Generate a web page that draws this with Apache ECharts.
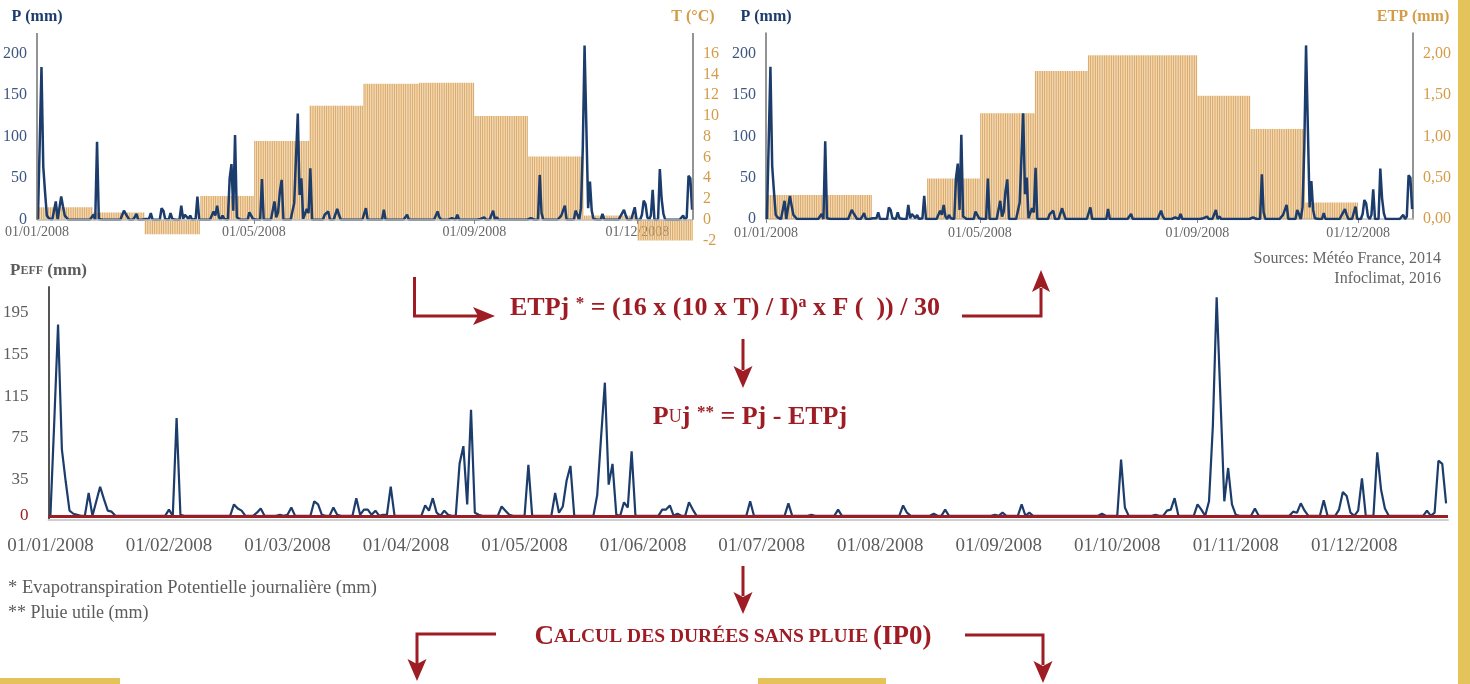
<!DOCTYPE html>
<html>
<head>
<meta charset="utf-8">
<script src="https://cdn.jsdelivr.net/npm/echarts@6/dist/echarts.min.js"></script>
<style>
html, body { margin: 0; padding: 0; background: #fff; }
#chart { width: 1470px; height: 684px; }
</style>
</head>
<body>
<div id="chart"></div>
<script>
// 2008 is a leap year
const monthDays = [31, 29, 31, 30, 31, 30, 31, 31, 30, 31, 30, 31]

// monthly mean temperature (°C)
const tempMonth = [1.2, 0.7, -1.4, 2.3, 7.6, 11.0, 13.1, 13.2, 10.0, 6.1, 0.4, -2.0]

// daily ETP for each month (mm)
const etpMonth = [0.29, 0.29, 0, 0.49, 1.28, 1.79, 1.98, 1.98, 1.49, 1.09, 0.20, 0]

// daily rain (mm), index 0 = 01/01/2008 ; top and bottom curves coincide at this scale
const pluieJour = [
  0, 90, 184, 64, 33, 5, 2, 1, 0, 0,
  22, 0, 14, 28, 16, 5, 4, 0, 0, 0,
  0, 0, 0, 0, 0, 0, 0, 0, 0, 0,
  0, 6, 0, 94, 1, 0, 0, 0, 0, 0,
  0, 0, 0, 0, 0, 0, 0, 0, 11, 7,
  5, 0, 0, 0, 3, 7, 0, 0, 0, 0,
  1, 0, 1, 8, 0, 0, 0, 0, 0, 14,
  11, 1, 0, 0, 8, 1, 0, 0, 0, 0,
  17, 1, 6, 6, 1, 5, 0, 1, 1, 28,
  0, 0, 0, 0, 0, 0, 0, 0, 10, 5,
  17, 3, 0, 5, 1, 0, 0, 50, 67, 11,
  102, 3, 1, 0, 0, 0, 0, 0, 9, 5,
  1, 0, 0, 0, 0, 49, 0, 0, 0, 0,
  0, 0, 22, 3, 9, 34, 48, 0, 0, 0,
  0, 0, 0, 20, 75, 128, 30, 50, 1, 0,
  13, 8, 62, 0, 0, 0, 0, 0, 0, 0,
  6, 6, 10, 0, 2, 0, 0, 13, 6, 0,
  0, 0, 0, 0, 0, 0, 0, 0, 0, 0,
  0, 0, 0, 14, 0, 0, 0, 0, 0, 0,
  0, 0, 0, 12, 0, 0, 0, 0, 0, 1,
  0, 0, 0, 0, 0, 0, 6, 0, 0, 0,
  0, 0, 0, 0, 0, 0, 0, 0, 0, 0,
  0, 0, 0, 10, 3, 0, 0, 0, 0, 0,
  0, 2, 0, 0, 6, 0, 0, 0, 0, 0,
  0, 0, 0, 0, 0, 0, 0, 1, 0, 3,
  0, 0, 0, 0, 11, 0, 3, 0, 0, 0,
  0, 0, 0, 0, 0, 0, 0, 0, 0, 0,
  0, 0, 0, 0, 0, 2, 0, 0, 0, 0,
  54, 8, 0, 0, 0, 0, 0, 0, 0, 1,
  0, 0, 5, 6, 17, 0, 0, 0, 0, 0,
  11, 6, 0, 14, 86, 210, 112, 14, 46, 11,
  1, 0, 0, 0, 0, 7, 0, 0, 0, 0,
  0, 0, 0, 0, 0, 4, 3, 12, 5, 0,
  0, 0, 0, 15, 0, 0, 0, 6, 23, 19,
  3, 0, 5, 36, 0, 0, 0, 61, 25, 7,
  0, 0, 0, 0, 0, 0, 0, 0, 0, 0,
  5, 0, 3, 53, 50, 12
]

const topTicks = [0, 121, 244, 335]
const topTickLabels = ['01/01/2008', '01/05/2008', '01/09/2008', '01/12/2008']
const bottomTickLabels = ['01/01/2008', '01/02/2008', '01/03/2008', '01/04/2008', '01/05/2008', '01/06/2008',
  '01/07/2008', '01/08/2008', '01/09/2008', '01/10/2008', '01/11/2008', '01/12/2008']
const peffTicks = [0, 35, 75, 115, 155, 195]

const serif = '"Liberation Serif", "DejaVu Serif", serif'
const navy = '#1c3c6c'
const gold = '#d49c46'
const red = '#9e1c24'
const grey = '#5c5c5c'
const barColor = 'rgba(220, 166, 92, 0.92)'

// one bar per day, height = value of its month
function daily (monthValues) {
  const out = []
  let d = 0
  monthDays.forEach((n, m) => {
    for (let i = 0; i < n; i++) { out.push([d + 0.5, monthValues[m]]); d++ }
  })
  return out
}
const rainPoints = pluieJour.map((v, d) => [d + 0.5, v])
const bottomTicks = bottomTickLabels.map((l, i) => i * 31 + 0.5)

function topXAxis (gridIndex, labelMargin, showLine) {
  return {
    type: 'value', gridIndex, min: 0, max: 366,
    axisLine: { show: showLine, onZero: false, lineStyle: { color: '#bdbdbd', width: 1.5 } },
    axisTick: { show: showLine, customValues: topTicks, length: 4, lineStyle: { color: '#888' } },
    axisLabel: {
      customValues: topTicks,
      formatter: v => topTickLabels[topTicks.indexOf(v)] || '',
      fontFamily: serif, fontSize: 14, color: '#666', margin: labelMargin
    },
    splitLine: { show: false }
  }
}

function sideAxis (gridIndex, position, min, max, interval, name, color, labelColor, fmt, showLine) {
  return {
    type: 'value', gridIndex, position, min, max, interval,
    name, nameLocation: 'end', nameGap: 8,
    nameTextStyle: { fontFamily: serif, fontWeight: 'bold', fontSize: 16, color, align: 'center', verticalAlign: 'bottom' },
    axisLine: { show: showLine, onZero: false, lineStyle: { color: '#707070', width: 1.5 } },
    axisTick: { show: false },
    axisLabel: { formatter: fmt, fontFamily: serif, fontSize: 16, color: labelColor, margin: 10 },
    splitLine: { show: false }
  }
}

const pFmt = v => (v >= 0 && v <= 200 && v % 50 === 0) ? String(v) : ''

// first chart: axes stop at zero while the temperature bars go below it
const axisSeg = (x0, y0, x1, y1, style) => [{ coord: [x0, y0], lineStyle: style }, { coord: [x1, y1] }]
const darkLine = { color: '#707070', width: 1.5, type: 'solid' }
const tickLine = { color: '#888', width: 1, type: 'solid' }
const firstChartLines = [
  { yAxis: 0, lineStyle: { color: '#bdbdbd', width: 1.5, type: 'solid' } },
  axisSeg(0, 0, 0, 18, darkLine),
  axisSeg(366, 0, 366, 18, darkLine)
].concat(topTicks.slice(1).map(t => axisSeg(t, 0, t, -0.4, tickLine)))

const chart = echarts.init(document.getElementById('chart'))

chart.setOption({
  animation: false,
  backgroundColor: '#fff',
  grid: [
    { left: 37, right: 777, top: 33, bottom: 443.5 },
    { left: 766, right: 57, top: 33, bottom: 465 },
    { left: 48, right: 22, top: 287, bottom: 164 }
  ],
  xAxis: [
    topXAxis(0, -15, false),
    topXAxis(1, 7, true),
    {
      type: 'value', gridIndex: 2, min: 0, max: 366,
      axisLine: { show: true, onZero: false, lineStyle: { color: '#cfcfcf', width: 2 } },
      axisTick: { show: false },
      axisLabel: {
        customValues: bottomTicks,
        formatter: v => bottomTickLabels[Math.round((v - 0.5) / 31)] || '',
        fontFamily: serif, fontSize: 19, color: grey, margin: 17
      },
      splitLine: { show: false }
    }
  ],
  yAxis: [
    sideAxis(0, 'left', -25, 225, 25, 'P (mm)', navy, '#3d5680', pFmt, false),
    sideAxis(0, 'right', -2, 18, 2, 'T (°C)', gold, gold, v => v <= 16 ? String(v) : '', false),
    sideAxis(1, 'left', 0, 225, 50, 'P (mm)', navy, '#3d5680', pFmt, true),
    sideAxis(1, 'right', 0, 2.25, 0.5, 'ETP (mm)', gold, gold, v => v <= 2 ? v.toFixed(2).replace('.', ',') : '', true),
    {
      type: 'value', gridIndex: 2, min: -4, max: 220,
      name: '{b|P}{s|EFF}{b| (mm)}', nameLocation: 'end', nameGap: 8,
      nameTextStyle: {
        align: 'center', verticalAlign: 'bottom', color: grey,
        rich: {
          b: { fontFamily: serif, fontWeight: 'bold', fontSize: 17, color: grey },
          s: { fontFamily: serif, fontWeight: 'bold', fontSize: 12, color: grey }
        }
      },
      axisLine: { show: true, onZero: false, lineStyle: { color: '#555', width: 2 } },
      axisTick: { show: false },
      axisLabel: {
        customValues: peffTicks,
        formatter: v => v === 0 ? '{r|0}' : String(v),
        fontFamily: serif, fontSize: 17, color: grey, margin: 20,
        rich: { r: { fontFamily: serif, fontSize: 17, color: red } }
      },
      splitLine: { show: false }
    }
  ],
  series: [
    {
      type: 'bar', xAxisIndex: 0, yAxisIndex: 1, data: daily(tempMonth),
      barWidth: 1.3, itemStyle: { color: barColor }, silent: true,
      markLine: { silent: true, symbol: 'none', label: { show: false }, data: firstChartLines }
    },
    {
      type: 'line', xAxisIndex: 0, yAxisIndex: 0, data: rainPoints,
      symbol: 'none', lineStyle: { color: navy, width: 2.5 }, z: 3
    },
    {
      type: 'bar', xAxisIndex: 1, yAxisIndex: 3, data: daily(etpMonth),
      barWidth: 1.3, itemStyle: { color: barColor }, silent: true
    },
    {
      type: 'line', xAxisIndex: 1, yAxisIndex: 2, data: rainPoints,
      symbol: 'none', lineStyle: { color: navy, width: 2.5 }, z: 3
    },
    {
      type: 'line', xAxisIndex: 2, yAxisIndex: 4, data: rainPoints,
      symbol: 'none', lineStyle: { color: navy, width: 2.2 }, z: 3,
      markLine: {
        silent: true, symbol: 'none', label: { show: false },
        lineStyle: { color: red, width: 3, type: 'solid' },
        data: [{ yAxis: 0 }]
      }
    }
  ],
  graphic: [
    // yellow page decorations
    { type: 'rect', shape: { x: 1458, y: 0, width: 12, height: 684 }, style: { fill: '#e4c35b' } },
    { type: 'rect', shape: { x: 0, y: 678, width: 120, height: 6 }, style: { fill: '#e4c35b' } },
    { type: 'rect', shape: { x: 758, y: 678, width: 128, height: 6 }, style: { fill: '#e4c35b' } },

    // arrows
    { type: 'polyline', shape: { points: [[414.5, 277], [414.5, 316], [478, 316]] }, style: { stroke: red, lineWidth: 3, fill: null } },
    { type: 'polygon', shape: { points: [[495, 316], [473, 307], [478, 316], [473, 325]] }, style: { fill: red } },
    { type: 'polyline', shape: { points: [[962, 316], [1041, 316], [1041, 288]] }, style: { stroke: red, lineWidth: 3, fill: null } },
    { type: 'polygon', shape: { points: [[1041, 270], [1050, 292], [1041, 287], [1032, 292]] }, style: { fill: red } },
    { type: 'polyline', shape: { points: [[743, 339], [743, 370]] }, style: { stroke: red, lineWidth: 3, fill: null } },
    { type: 'polygon', shape: { points: [[743, 388], [733.5, 366], [743, 371], [752.5, 366]] }, style: { fill: red } },
    { type: 'polyline', shape: { points: [[743, 566], [743, 596]] }, style: { stroke: red, lineWidth: 3, fill: null } },
    { type: 'polygon', shape: { points: [[743, 614], [733.5, 592], [743, 597], [752.5, 592]] }, style: { fill: red } },
    { type: 'polyline', shape: { points: [[496, 634], [417, 634], [417, 664]] }, style: { stroke: red, lineWidth: 3, fill: null } },
    { type: 'polygon', shape: { points: [[417, 681], [407.5, 659], [417, 664], [426.5, 659]] }, style: { fill: red } },
    { type: 'polyline', shape: { points: [[965, 635], [1043, 635], [1043, 665]] }, style: { stroke: red, lineWidth: 3, fill: null } },
    { type: 'polygon', shape: { points: [[1043, 683], [1033.5, 661], [1043, 666], [1052.5, 661]] }, style: { fill: red } },

    // formulas
    {
      type: 'text', x: 725, y: 308,
      style: {
        text: '{m|ETPj }{s|*}{m| = (16 x (10 x T) / I)}{a|a}{m| x F (  )) / 30}',
        align: 'center', verticalAlign: 'middle',
        rich: {
          m: { fontFamily: serif, fontWeight: 'bold', fontSize: 26, fill: red, color: red },
          s: { fontFamily: serif, fontWeight: 'bold', fontSize: 17, fill: red, color: red, verticalAlign: 'top' },
          a: { fontFamily: serif, fontWeight: 'bold', fontSize: 16, fill: red, color: red, verticalAlign: 'top' }
        }
      }
    },
    {
      type: 'text', x: 750, y: 417,
      style: {
        text: '{m|P}{u|U}{m|j }{s|**}{m| = Pj - ETPj}',
        align: 'center', verticalAlign: 'middle',
        rich: {
          m: { fontFamily: serif, fontWeight: 'bold', fontSize: 26, fill: red, color: red },
          u: { fontFamily: serif, fontWeight: 'normal', fontSize: 18, fill: red, color: red },
          s: { fontFamily: serif, fontWeight: 'bold', fontSize: 17, fill: red, color: red, verticalAlign: 'top' }
        }
      }
    },
    {
      type: 'text', x: 733, y: 637,
      style: {
        text: '{m|C}{c|ALCUL DES DURÉES SANS PLUIE }{m|(IP0)}',
        align: 'center', verticalAlign: 'middle',
        rich: {
          m: { fontFamily: serif, fontWeight: 'bold', fontSize: 27, fill: red, color: red },
          c: { fontFamily: serif, fontWeight: 'bold', fontSize: 19.5, fill: red, color: red }
        }
      }
    },

    // notes and sources
    { type: 'text', x: 8, y: 588, style: { text: '* Evapotranspiration Potentielle journalière (mm)', fill: grey, font: '18.5px ' + serif, verticalAlign: 'middle' } },
    { type: 'text', x: 8, y: 613, style: { text: '** Pluie utile (mm)', fill: grey, font: '18px ' + serif, verticalAlign: 'middle' } },
    { type: 'text', x: 1441, y: 259, style: { text: 'Sources: Météo France, 2014', fill: '#666', font: '16px ' + serif, align: 'right', verticalAlign: 'middle' } },
    { type: 'text', x: 1441, y: 279, style: { text: 'Infoclimat, 2016', fill: '#666', font: '16px ' + serif, align: 'right', verticalAlign: 'middle' } }
  ]
})
</script>
</body>
</html>
